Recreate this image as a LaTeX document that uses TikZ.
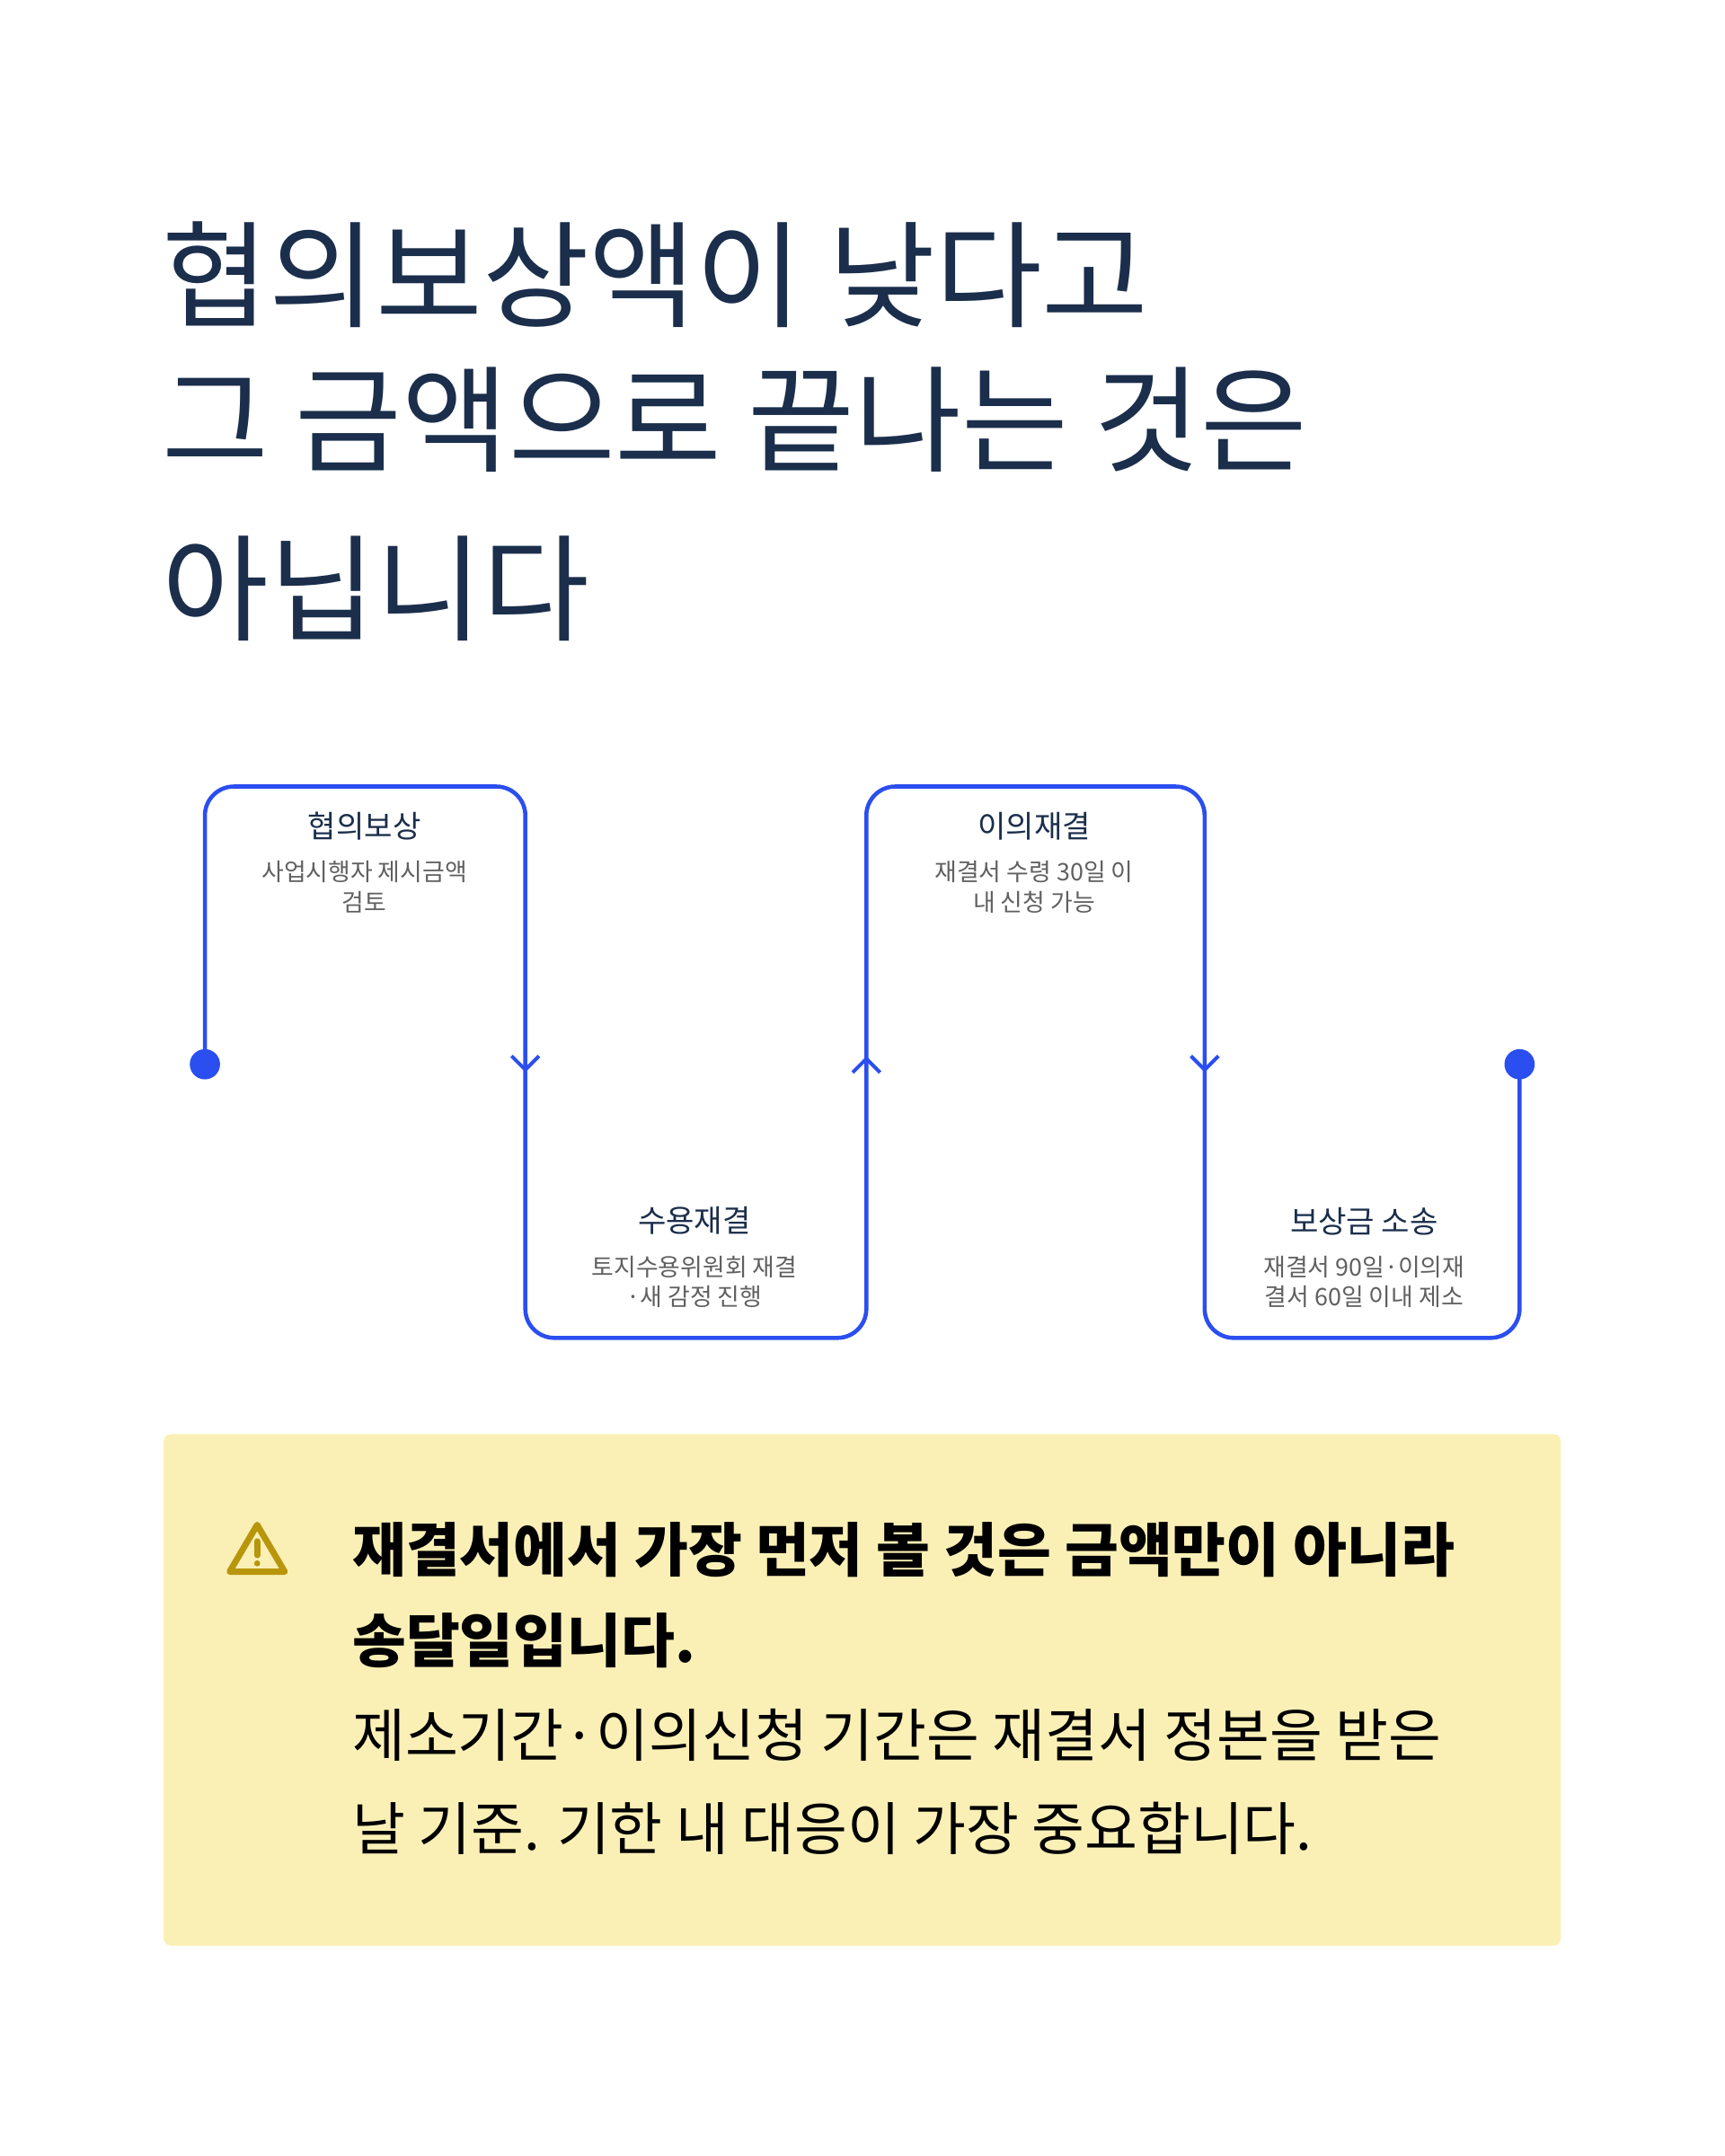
\documentclass[tikz,border=0pt]{standalone}
\usepackage{fontspec}
\usetikzlibrary{calc}
\setmainfont{Noto Sans CJK KR}
\begin{document}
\begin{tikzpicture}[x=0.02cm,y=-0.02cm,
  flow/.style={draw=flowblue,line width=1.7pt,rounded corners=12pt},
  chev/.style={draw=flowblue,line width=1.5pt},
  ttl/.style={font=\fontsize{12.7}{15}\selectfont,text=navy,anchor=center},
  sub/.style={font=\fontsize{10}{12.5}\selectfont,text=gray!75!black,align=center,anchor=north},
  big/.style={font=\fontsize{48}{60}\selectfont,text=navy,anchor=west}]
\definecolor{navy}{HTML}{1B2E4B}
\definecolor{flowblue}{HTML}{2B4EF0}
\definecolor{boxy}{HTML}{FAF0B6}
\definecolor{warn}{HTML}{B8960C}
\useasboundingbox (0,0) rectangle (1254,1568);
% title
\node[big] (t1) at (112,200) {협의보상액이 낮다고};
\node[big] (t2) at (112,305) {그 금액으로 끝나는 것은};
\node[big] (t3) at (112,428) {아닙니다};
% flow
\coordinate (s) at (149,774);
\coordinate (e) at (1105,774);
\draw[flow] (s) -- (149,572) -- (382,572) -- (382,973) -- (630,973) -- (630,572) -- (876,572) -- (876,973) -- (1105,973) -- (e);
\fill[flowblue] (s) circle (11);
\fill[flowblue] (e) circle (11);
\coordinate (a1) at (382,778);
\coordinate (a2) at (630,770);
\coordinate (a3) at (876,778);
\draw[chev] ($(a1)+(-10,-10)$) -- (a1) -- ($(a1)+(10,-10)$);
\draw[chev] ($(a2)+(-10,10)$) -- (a2) -- ($(a2)+(10,10)$);
\draw[chev] ($(a3)+(-10,-10)$) -- (a3) -- ($(a3)+(10,-10)$);
% labels
\node[ttl] (l1) at (265,601) {협의보상};
\node[sub] (d1) at (265,620) {사업시행자 제시금액\\검토};
\node[ttl] (l2) at (505,888) {수용재결};
\node[sub] (d2) at (505,907) {토지수용위원회 재결\\·새 감정 진행};
\node[ttl] (l3) at (752,601) {이의재결};
\node[sub] (d3) at (752,620) {재결서 수령 30일 이\\내 신청 가능};
\node[ttl] (l4) at (992,888) {보상금 소송};
\node[sub] (d4) at (992,907) {재결서 90일·이의재\\결서 60일 이내 제소};
% box
\fill[boxy,rounded corners=3pt] (119,1043) rectangle (1135,1415);
\begin{scope}[shift={(187,1127)}]
\draw[warn,line width=2.6pt,line join=round] (0,-18) -- (20,16) -- (-20,16) -- cycle;
\draw[warn,line width=2.6pt,line cap=round] (0,-6) -- (0,4);
\fill[warn] (0,10) circle (2.2);
\end{scope}
\node[anchor=west,font=\fontsize{24.2}{30}\selectfont\bfseries] (b1) at (250,1127) {재결서에서 가장 먼저 볼 것은 금액만이 아니라};
\node[anchor=west,font=\fontsize{24.2}{30}\selectfont\bfseries] (b2) at (250,1193) {송달일입니다.};
\node[anchor=west,font=\fontsize{23.8}{30}\selectfont] (b3) at (250,1262) {제소기간·이의신청 기간은 재결서 정본을 받은};
\node[anchor=west,font=\fontsize{23.8}{30}\selectfont] (b4) at (250,1330) {날 기준. 기한 내 대응이 가장 중요합니다.};
\end{tikzpicture}
\end{document}
